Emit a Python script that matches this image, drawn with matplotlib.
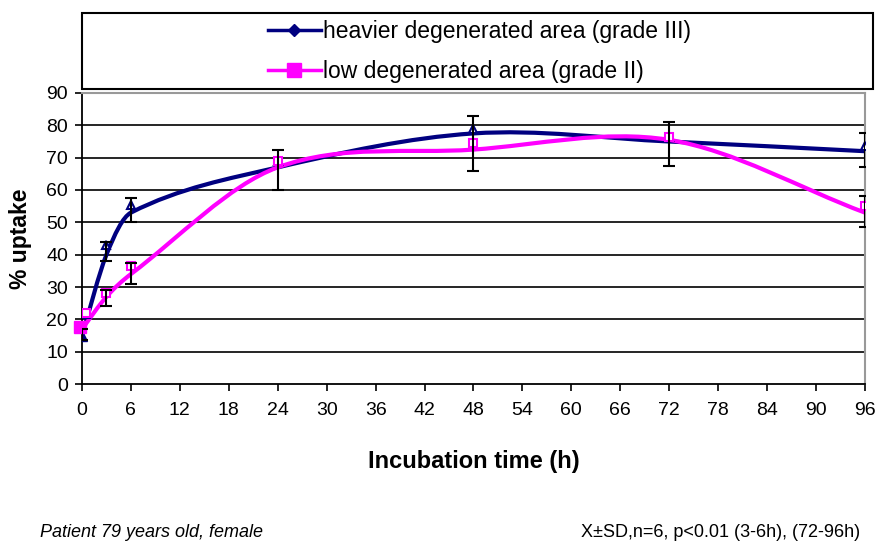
import matplotlib
matplotlib.use('Agg')
import matplotlib.pyplot as plt
from matplotlib.path import Path
from matplotlib.patches import PathPatch, Rectangle
from matplotlib.lines import Line2D
import numpy as np

plt.rcParams['font.family'] = ['Liberation Sans', 'DejaVu Sans']

# smoothed curve points (h, % uptake)
t_line = [0, 3, 6, 24, 48, 72, 96]
heavy_line = [15, 40, 53, 67, 77.5, 75, 72]
low_line = [17, 27, 34, 67, 72.5, 75.5, 53]

# marker points
t_mark = [0.5, 3, 6, 24, 48, 72, 96]
heavy_mark = [21.5, 43, 55.5, 69, 79, 76.5, 73.5]
low_mark = [22, 28, 36.5, 69, 74.5, 76.5, 55]

# error bars (low, high)
t_err = [0, 3, 6, 24, 48, 72, 96, 3, 6, 96]
err_lo = [13.5, 38, 50, 60, 66, 67.5, 67, 24, 31, 48.7]
err_hi = [17, 44, 57.5, 72.5, 83, 81, 77.5, 29, 37.5, 58]

xticks = list(range(0, 97, 6))
yticks = list(range(0, 91, 10))

navy = '#000080'
pink = '#FF00FF'


def smooth_path(x, y):
    x = np.asarray(x, float)
    y = np.asarray(y, float)
    n = len(x)
    m = np.zeros(n)
    m[0] = (y[1] - y[0]) / (x[1] - x[0])
    m[-1] = (y[-1] - y[-2]) / (x[-1] - x[-2])
    for i in range(1, n - 1):
        m[i] = (y[i + 1] - y[i - 1]) / (x[i + 1] - x[i - 1])
    verts = [(x[0], y[0])]
    codes = [Path.MOVETO]
    for i in range(n - 1):
        h = x[i + 1] - x[i]
        verts += [(x[i] + h / 3, y[i] + m[i] * h / 3),
                  (x[i + 1] - h / 3, y[i + 1] - m[i + 1] * h / 3),
                  (x[i + 1], y[i + 1])]
        codes += [Path.CURVE4] * 3
    return Path(verts, codes)


fig = plt.figure(figsize=(8.77, 5.41), dpi=100)
ax = fig.add_axes([0.0935, 0.2902, 0.8928, 0.5379])

for v in yticks[1:]:
    ax.axhline(v, color='black', lw=1.2, zorder=1)

ax.add_patch(PathPatch(smooth_path(t_line, heavy_line), fill=False,
                       edgecolor=navy, lw=3, zorder=3))
ax.add_patch(PathPatch(smooth_path(t_line, low_line), fill=False,
                       edgecolor=pink, lw=3, zorder=3))

ax.plot(t_mark, heavy_mark, linestyle='none', marker='^', ms=6, mfc='white',
        mec=navy, mew=1.5, zorder=4)
ax.plot(t_mark, low_mark, linestyle='none', marker='s', ms=6, mfc='white',
        mec=pink, mew=1.5, zorder=4)
ax.plot([0], [heavy_line[0]], linestyle='none', marker='^', ms=7, color=navy, zorder=4)
ax.plot([-0.3], [low_line[0] + 0.5], linestyle='none', marker='s', ms=8, color=pink,
        zorder=4, clip_on=False)

mid = [(a + b) / 2 for a, b in zip(err_lo, err_hi)]
half = [(b - a) / 2 for a, b in zip(err_lo, err_hi)]
ax.errorbar(t_err, mid, yerr=half, fmt='none', ecolor='black', elinewidth=1.5,
            capsize=4, capthick=1.5, zorder=5)

ax.set_xlim(0, 96)
ax.set_ylim(0, 90)
ax.set_xticks(xticks)
ax.set_yticks(yticks)
ax.tick_params(labelsize=14, length=5, width=1.2, direction='out')
ax.tick_params(axis='x', pad=8)
ax.tick_params(axis='y', pad=5)
ax.spines['left'].set_linewidth(1.3)
ax.spines['bottom'].set_linewidth(1.3)
ax.spines['top'].set_color('#999999')
ax.spines['right'].set_color('#999999')
ax.spines['top'].set_linewidth(1.5)
ax.spines['right'].set_linewidth(1.5)

ax.set_xlabel('Incubation time (h)', fontsize=17, fontweight='bold', labelpad=22)
ax.set_ylabel('% uptake', fontsize=16.5, fontweight='bold', labelpad=10)

# legend box
fig.patches.append(Rectangle((0.0935, 0.8355), 0.9019, 0.1405, transform=fig.transFigure,
                             fill=False, edgecolor='black', lw=1.5))
handles = [Line2D([], [], color=navy, lw=2.5, marker='D', ms=6),
           Line2D([], [], color=pink, lw=2.5, marker='s', ms=10)]
fig.legend(handles, ['heavier degenerated area (grade III)', 'low degenerated area (grade II)'],
           loc='center left', bbox_to_anchor=(0.295, 0.905), frameon=False, fontsize=16.5,
           handlelength=2.3, handletextpad=0.1, labelspacing=0.75, borderaxespad=0)

fig.text(0.046, 0.007, 'Patient 79 years old, female', fontsize=13, style='italic')
fig.text(0.981, 0.007, 'X\u00b1SD,n=6, p<0.01 (3-6h), (72-96h)', fontsize=13, ha='right')

fig.savefig('out.png', dpi=100)
